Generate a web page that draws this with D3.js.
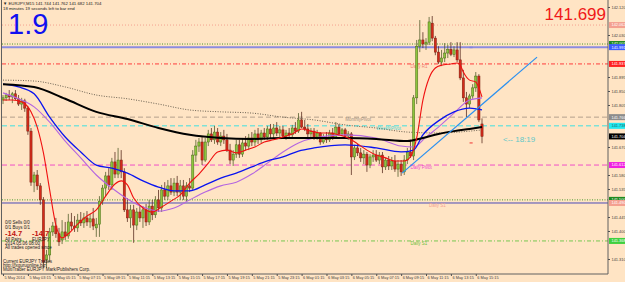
<!DOCTYPE html>
<html>
<head>
<meta charset="utf-8">
<script src="https://cdn.jsdelivr.net/npm/d3@7"></script>
<style>
html, body { margin: 0; padding: 0; background: #ffe4c4; }
svg { display: block; }
text { font-family: "Liberation Sans", Arial, sans-serif; }
</style>
</head>
<body>
<svg id="chart" width="625" height="282"></svg>
<script>
// EURJPY M15 candles, 5-6 May 2014
const candleOpen = [
  141.821,141.828,141.837,141.831,141.841,141.825,141.808,141.818,141.795,141.721,
  141.557,141.580,141.545,141.500,141.307,141.323,141.397,141.416,141.391,141.371,
  141.397,141.384,141.429,141.416,141.410,141.435,141.426,141.442,141.429,141.439,
  141.410,141.422,141.496,141.538,141.577,141.548,141.622,141.583,141.628,141.590,
  141.468,141.442,141.468,141.419,141.461,141.442,141.468,141.429,141.480,141.452,
  141.500,141.474,141.532,141.512,141.545,141.525,141.554,141.525,141.545,141.512,
  141.545,141.538,141.644,141.673,141.686,141.628,141.686,141.712,141.693,141.718,
  141.686,141.705,141.693,141.660,141.628,141.647,141.677,141.647,141.683,141.673,
  141.699,141.686,141.712,141.693,141.715,141.702,141.728,141.712,141.731,141.715,
  141.725,141.705,141.715,141.709,141.731,141.721,141.757,141.734,141.728,141.712,
  141.721,141.702,141.715,141.686,141.702,141.693,141.715,141.702,141.734,141.712,
  141.725,141.705,141.712,141.638,141.667,141.651,141.635,141.647,141.612,141.638,
  141.644,141.628,141.644,141.606,141.628,141.609,141.625,141.599,141.615,141.590,
  141.628,141.654,141.641,141.828,141.994,142.014,142.001,142.007,142.068,142.020,
  141.975,141.943,141.956,141.972,141.984,141.968,141.982,141.950,141.892,141.828,
  141.808,141.834,141.860,141.898,141.744
]
const candleHigh = [
  141.837,141.844,141.853,141.847,141.853,141.837,141.828,141.825,141.802,141.731,
  141.590,141.596,141.554,141.509,141.339,141.410,141.429,141.442,141.410,141.435,
  141.429,141.455,141.458,141.448,141.455,141.461,141.458,141.464,141.455,141.474,
  141.442,141.512,141.548,141.590,141.602,141.635,141.654,141.667,141.660,141.602,
  141.506,141.484,141.484,141.474,141.480,141.480,141.487,141.500,141.500,141.512,
  141.532,141.548,141.557,141.564,141.570,141.570,141.577,141.564,141.564,141.557,
  141.570,141.660,141.693,141.699,141.705,141.699,141.725,141.731,141.738,141.731,
  141.718,141.725,141.712,141.680,141.660,141.693,141.693,141.699,141.705,141.712,
  141.718,141.725,141.731,141.725,141.731,141.738,141.744,141.744,141.750,141.738,
  141.738,141.725,141.731,141.741,141.750,141.779,141.783,141.757,141.744,141.731,
  141.731,141.725,141.718,141.712,141.718,141.725,141.731,141.750,141.744,141.731,
  141.731,141.721,141.718,141.677,141.680,141.667,141.660,141.654,141.647,141.660,
  141.660,141.654,141.654,141.635,141.641,141.638,141.644,141.628,141.628,141.644,
  141.667,141.693,141.837,142.014,142.078,142.039,142.020,142.088,142.091,142.027,
  141.994,141.982,142.004,141.998,142.007,141.994,142.007,142.007,141.918,141.847,
  141.841,141.872,141.911,141.904,141.762
]
const candleLow = [
  141.808,141.818,141.821,141.811,141.821,141.802,141.789,141.783,141.709,141.545,
  141.525,141.532,141.484,141.281,141.281,141.300,141.384,141.378,141.352,141.358,
  141.371,141.375,141.403,141.397,141.397,141.416,141.410,141.416,141.410,141.403,
  141.381,141.381,141.484,141.512,141.532,141.532,141.570,141.570,141.570,141.461,
  141.429,141.410,141.362,141.403,141.429,141.410,141.416,141.419,141.435,141.442,
  141.461,141.461,141.500,141.500,141.516,141.512,141.512,141.500,141.500,141.496,
  141.525,141.532,141.622,141.654,141.612,141.622,141.673,141.686,141.680,141.677,
  141.673,141.680,141.654,141.615,141.609,141.635,141.635,141.638,141.660,141.660,
  141.673,141.673,141.680,141.683,141.693,141.693,141.699,141.699,141.705,141.699,
  141.696,141.693,141.699,141.702,141.712,141.715,141.731,141.721,141.699,141.699,
  141.693,141.693,141.677,141.680,141.683,141.686,141.693,141.696,141.705,141.705,
  141.699,141.693,141.580,141.628,141.641,141.622,141.615,141.590,141.602,141.622,
  141.622,141.615,141.586,141.596,141.596,141.596,141.590,141.574,141.577,141.580,
  141.615,141.635,141.628,141.808,141.975,141.988,141.982,141.998,142.010,141.965,
  141.937,141.930,141.943,141.956,141.962,141.959,141.943,141.885,141.815,141.766,
  141.795,141.825,141.847,141.750,141.682
]
const candleClose = [
  141.828,141.837,141.831,141.841,141.825,141.808,141.818,141.795,141.721,141.557,
  141.580,141.545,141.500,141.300,141.323,141.397,141.416,141.391,141.365,141.397,
  141.384,141.429,141.416,141.410,141.435,141.426,141.442,141.429,141.439,141.416,
  141.422,141.496,141.538,141.577,141.548,141.622,141.583,141.628,141.590,141.468,
  141.442,141.468,141.419,141.461,141.442,141.468,141.429,141.480,141.452,141.500,
  141.474,141.532,141.512,141.545,141.525,141.554,141.525,141.545,141.512,141.545,
  141.538,141.644,141.673,141.686,141.628,141.686,141.712,141.693,141.718,141.686,
  141.705,141.693,141.660,141.628,141.647,141.677,141.647,141.683,141.673,141.699,
  141.686,141.712,141.693,141.715,141.702,141.728,141.712,141.731,141.715,141.725,
  141.705,141.715,141.709,141.731,141.721,141.757,141.734,141.728,141.712,141.721,
  141.702,141.715,141.686,141.702,141.693,141.715,141.702,141.734,141.712,141.725,
  141.705,141.712,141.638,141.667,141.651,141.635,141.647,141.612,141.638,141.644,
  141.628,141.644,141.606,141.628,141.609,141.625,141.599,141.615,141.590,141.628,
  141.654,141.641,141.828,141.994,142.014,142.001,142.007,142.072,142.020,141.975,
  141.943,141.956,141.972,141.984,141.968,141.982,141.950,141.892,141.828,141.808,
  141.834,141.860,141.898,141.757,141.704
]

// moving averages (bar index, price)
const blackMaBars = [0,10,20,30,40,50,60,70,80,90,100,110,120,130,135,140,145,150,154]
const blackMa = [141.872,141.863,141.825,141.783,141.760,141.731,141.709,141.699,141.696,141.699,141.699,141.699,141.696,141.689,141.699,141.712,141.721,141.728,141.734]
const dottedMaBars = [0,10,20,30,40,50,60,70,80,90,100,110,120,130,140,150,154]
const dottedMa = [141.885,141.882,141.863,141.837,141.825,141.808,141.789,141.783,141.779,141.766,141.757,141.741,141.731,141.718,141.715,141.721,141.725]
const blueMaBars = [0,5,10,15,20,25,30,35,40,45,50,55,60,65,70,75,80,85,90,95,100,110,120,128,132,135,140,145,150,154]
const blueMa = [141.872,141.863,141.841,141.766,141.702,141.654,141.612,141.602,141.586,141.561,141.541,141.529,141.529,141.548,141.570,141.586,141.606,141.625,141.638,141.657,141.667,141.677,141.667,141.654,141.660,141.709,141.754,141.783,141.795,141.789]
const violetMaBars = [0,5,10,15,20,25,30,35,40,45,50,55,60,65,70,75,80,85,90,95,100,110,120,128,132,136,140,145,150,154]
const violetMa = [141.844,141.825,141.799,141.750,141.689,141.635,141.580,141.538,141.503,141.477,141.464,141.474,141.500,141.525,141.545,141.557,141.583,141.618,141.654,141.683,141.699,141.709,141.699,141.673,141.670,141.702,141.734,141.779,141.821,141.828]
const redMaBars = [0,3,6,9,11,13,15,17,19,21,24,27,30,33,36,38,40,42,45,48,51,54,57,60,63,66,69,72,75,78,81,84,87,90,93,96,99,102,105,108,111,114,117,120,123,126,129,131,133,135,137,139,141,144,146,147,148,150,152,153,154]
const redMa = [141.821,141.821,141.815,141.783,141.734,141.651,141.532,141.419,141.378,141.391,141.422,141.448,141.468,141.512,141.551,141.561,141.548,141.506,141.474,141.461,141.477,141.496,141.516,141.554,141.583,141.618,141.654,141.660,141.651,141.660,141.670,141.686,141.693,141.702,141.712,141.728,141.721,141.715,141.715,141.709,141.699,141.680,141.660,141.644,141.635,141.625,141.625,141.638,141.699,141.821,141.892,141.924,141.933,141.937,141.940,141.933,141.911,141.885,141.879,141.860,141.831]

// trend line (bar index, price)
const trendBars = [128.3, 171.7]
const trendPrices = [141.586, 141.959]

// horizontal levels
const levelNames = ['r2', 'round1', 'weekHigh', 'dailyR1', 'monthlyPivot', 'weeklyPivot', 'dailyPivot', 'round2', 'dailyS1', 'dailyS2']
const levelPrices = [142.062, 142.001, 141.991, 141.937, 141.766, 141.738, 141.612, 141.500, 141.490, 141.368]
const levelTexts = ['', '', '', 'Daily R1', 'MonthlyPivot', 'WeeklyPivot', 'Daily Pivot', '', 'Daily S1', 'Daily S1']
const lastPrice = 141.704
const bigPrice = '141.699'

const priceTicks = [142.120,142.075,142.030,141.985,141.940,141.895,141.850,141.805,141.760,141.715,141.670,141.625,141.580,141.535,141.490,141.445,141.400,141.355,141.310]
const timeTickBars = [0,8,16,24,32,40,48,56,64,72,80,88,96,104,112,120,128,136,144,152]
const timeTickLabels = ['5 May 2014','5 May 03:15','5 May 05:15','5 May 07:15','5 May 09:15','5 May 11:15','5 May 13:15','5 May 15:15','5 May 17:15','5 May 19:15','5 May 21:15','5 May 23:15','6 May 01:15','6 May 03:15','6 May 05:15','6 May 07:15','6 May 09:15','6 May 11:15','6 May 13:15','6 May 15:15']

const svg = d3.select('#chart')
const plotLeft = 2, plotRight = 608, plotTop = 3, plotBottom = 274
const axisFont = 3.9

const x = d3.scaleLinear().domain([0, 154]).range([3, 482])
const y = d3.scaleLinear().domain([142.1425, 141.2746]).range([0, 270])

svg.append('rect').attr('width', 625).attr('height', 282).attr('fill', '#ffe4c4')

svg.append('clipPath').attr('id', 'plotClip')
    .append('rect')
    .attr('x', plotLeft).attr('y', plotTop)
    .attr('width', plotRight - plotLeft).attr('height', plotBottom - plotTop)

const plot = svg.append('g').attr('clip-path', 'url(#plotClip)')

// level lines
const levelStyle = {
    r2: { color: '#f4a090', dash: '1,2', width: 1, box: '#f4a090' },
    round1: { color: '#4a9a2a', dash: '1,1.5', width: 1, box: '#1f8a1f' },
    weekHigh: { color: '#8c8ce0', dash: null, width: 2, box: '#3b5bff' },
    dailyR1: { color: '#ff3b3b', dash: '4,2,1,2', width: 1, box: '#ff2020' },
    monthlyPivot: { color: '#b4a08c', dash: '5,3', width: 1, box: '#8c8c8c' },
    weeklyPivot: { color: '#3fe0e0', dash: '5,3', width: 1, box: '#22e8f0' },
    dailyPivot: { color: '#f050c8', dash: '5,3', width: 1, box: '#f020e0' },
    round2: { color: '#4a9a2a', dash: '1,1.5', width: 1, box: '#1f8a1f' },
    dailyS1: { color: '#4a4ab8', dash: null, width: 1, box: '#f4a090' },
    dailyS2: { color: '#78c850', dash: '4,2,1,2', width: 1, box: '#40d040' }
}
const levelTextPos = {
    dailyR1: { bar: 131, color: '#f08070' },
    monthlyPivot: { bar: 110, color: '#a09080' },
    weeklyPivot: { bar: 120, color: '#40d8d8' },
    dailyPivot: { bar: 131, color: '#f040d0' },
    dailyS1: { bar: 137, color: '#f4a090' },
    dailyS2: { bar: 131, color: '#70c040' }
}

levelNames.forEach((name, k) => {
    const st = levelStyle[name]
    const ly = y(levelPrices[k])
    plot.append('line')
        .attr('x1', plotLeft).attr('x2', plotRight)
        .attr('y1', ly).attr('y2', ly)
        .attr('stroke', st.color)
        .attr('stroke-width', st.width)
        .attr('stroke-dasharray', st.dash)
    if (levelTexts[k]) {
        const tp = levelTextPos[name]
        plot.append('text')
            .attr('x', x(tp.bar)).attr('y', ly + 4)
            .attr('font-size', 4.5)
            .attr('fill', tp.color)
            .text(levelTexts[k])
    }
})

// moving averages
const maLine = d3.line().curve(d3.curveMonotoneX)
function drawMa(bars, values, color, width, dash) {
    plot.append('path')
        .attr('d', maLine(bars.map((b, k) => [x(b), y(values[k])])))
        .attr('fill', 'none')
        .attr('stroke', color)
        .attr('stroke-width', width)
        .attr('stroke-dasharray', dash)
}
drawMa(dottedMaBars, dottedMa, '#6a6050', 1, '1,1.5')

// candles
const bodyW = 2.2
candleOpen.forEach((o, i) => {
    const c = candleClose[i]
    const up = c >= o
    const cx = x(i)
    plot.append('line')
        .attr('x1', cx).attr('x2', cx)
        .attr('y1', y(candleHigh[i])).attr('y2', y(candleLow[i]))
        .attr('stroke', up ? '#56602e' : '#5a2e22')
        .attr('stroke-width', 0.8)
    const top = y(Math.max(o, c))
    const h = Math.max(1, Math.abs(y(o) - y(c)))
    plot.append('rect')
        .attr('x', cx - bodyW / 2).attr('y', top)
        .attr('width', bodyW).attr('height', h)
        .attr('fill', up ? '#8cc43c' : '#d42a1a')
        .attr('stroke', up ? '#4a6a18' : '#7a2010')
        .attr('stroke-width', 0.5)
})

drawMa(violetMaBars, violetMa, '#b466e0', 1.1)
drawMa(blueMaBars, blueMa, '#0a14f0', 1.3)
drawMa(blackMaBars, blackMa, '#000000', 2)
drawMa(redMaBars, redMa, '#f01010', 1.1)

// trend line
plot.append('line')
    .attr('x1', x(trendBars[0])).attr('y1', y(trendPrices[0]))
    .attr('x2', x(trendBars[1])).attr('y2', y(trendPrices[1]))
    .attr('stroke', '#2a90f0')
    .attr('stroke-width', 1.2)

// small trade markers
plot.append('line').attr('x1', x(150)).attr('x2', x(151)).attr('y1', y(141.683)).attr('y2', y(141.683))
    .attr('stroke', '#f03030').attr('stroke-width', 1)
plot.append('line').attr('x1', x(150)).attr('x2', x(151)).attr('y1', y(141.990)).attr('y2', y(141.990))
    .attr('stroke', '#8080e0').attr('stroke-width', 1.5)

// timer text
plot.append('text')
    .attr('x', 503).attr('y', y(141.686))
    .attr('font-size', 8)
    .attr('fill', '#60c8c8')
    .text('<-- 18:19')

// axes frame
svg.append('line').attr('x1', plotRight).attr('x2', plotRight).attr('y1', 0).attr('y2', plotBottom)
    .attr('stroke', '#606060').attr('stroke-width', 1)
svg.append('line').attr('x1', 1).attr('x2', plotRight).attr('y1', plotBottom).attr('y2', plotBottom)
    .attr('stroke', '#606060').attr('stroke-width', 1)
svg.append('line').attr('x1', 1.5).attr('x2', 1.5).attr('y1', 0).attr('y2', plotBottom)
    .attr('stroke', '#606060').attr('stroke-width', 1)

// price axis: tick labels hidden where a level box sits on top of them
const boxPrices = levelPrices.concat([lastPrice])
const freeTicks = priceTicks.filter(p => boxPrices.every(b => Math.abs(y(p) - y(b)) > 5.5))
const yAxis = d3.axisRight(y)
    .tickValues(freeTicks)
    .tickSize(2)
    .tickFormat(d3.format('.3f'))
const yAxisG = svg.append('g')
    .attr('transform', `translate(${plotRight},0)`)
    .call(yAxis)
yAxisG.select('.domain').remove()
yAxisG.selectAll('line').attr('stroke', '#505050')
yAxisG.selectAll('text')
    .attr('font-size', axisFont)
    .attr('font-family', '"Liberation Sans", Arial, sans-serif')
    .attr('fill', '#404040')
    .attr('x', 3.5)

// price boxes for levels
function priceBox(price, bg, fg) {
    const by = y(price)
    svg.append('rect')
        .attr('x', plotRight + 1).attr('y', by - 3)
        .attr('width', 16).attr('height', 6)
        .attr('fill', bg)
    svg.append('text')
        .attr('x', plotRight + 3.5).attr('y', by + 1.4)
        .attr('font-size', axisFont)
        .attr('fill', fg)
        .text(d3.format('.3f')(price))
}
levelNames.forEach((name, k) => {
    priceBox(levelPrices[k], levelStyle[name].box, name === 'weeklyPivot' ? '#206060' : '#ffffff')
})
priceBox(lastPrice, '#000000', '#ffffff')

// time axis
const xAxis = d3.axisBottom(x)
    .tickValues(timeTickBars)
    .tickSize(2)
    .tickFormat((d, k) => timeTickLabels[k])
const xAxisG = svg.append('g')
    .attr('transform', `translate(0,${plotBottom})`)
    .call(xAxis)
xAxisG.select('.domain').remove()
xAxisG.selectAll('line').attr('stroke', '#505050')
xAxisG.selectAll('text')
    .attr('font-size', axisFont)
    .attr('font-family', '"Liberation Sans", Arial, sans-serif')
    .attr('fill', '#404040')
    .attr('text-anchor', 'start')
    .attr('dx', 1)
    .attr('y', 2)

// header texts
svg.append('text').attr('x', 3).attr('y', 5).attr('font-size', 4.3).attr('fill', '#202020')
    .text('\u25BC EURJPY,M15  141.744 141.762 141.682 141.704')
svg.append('text').attr('x', 3).attr('y', 10).attr('font-size', 4.3).attr('fill', '#202020')
    .text('18 minutes 19 seconds left to bar end')
svg.append('text').attr('x', 8).attr('y', 34).attr('font-size', 29).attr('fill', '#1010f0')
    .text('1.9')
svg.append('text').attr('x', 606).attr('y', 20).attr('font-size', 17).attr('fill', '#f01818')
    .attr('text-anchor', 'end')
    .text(bigPrice)

// trade panel bottom left
const panel = svg.append('g').attr('font-size', 4.5).attr('fill', '#202020')
panel.append('text').attr('x', 5).attr('y', 224).text('0/0   Sells 0/0')
panel.append('text').attr('x', 5).attr('y', 229).text('0/1   Buys 0/1')
panel.append('text').attr('x', 5).attr('y', 236).attr('font-size', 7.5).attr('font-weight', 'bold').attr('fill', '#c01010').text('-14.7')
panel.append('text').attr('x', 32).attr('y', 236).attr('font-size', 7.5).attr('font-weight', 'bold').attr('fill', '#c01010').text('-14.7')
panel.append('text').attr('x', 5).attr('y', 241).text('All Pairs')
panel.append('text').attr('x', 32).attr('y', 241).text('EURJPY')
panel.append('text').attr('x', 5).attr('y', 245).text('2014.05.06 08:00')
panel.append('text').attr('x', 5).attr('y', 249).text('All trades opened since')
panel.append('text').attr('x', 3).attr('y', 263).text('Current EURJPY Trades')
panel.append('text').attr('x', 3).attr('y', 267).text('http://fxguruonline.biz')
panel.append('text').attr('x', 3).attr('y', 271).text('MultiTrader EURJPY Mark/Publishers Corp.')
</script>
</body>
</html>
